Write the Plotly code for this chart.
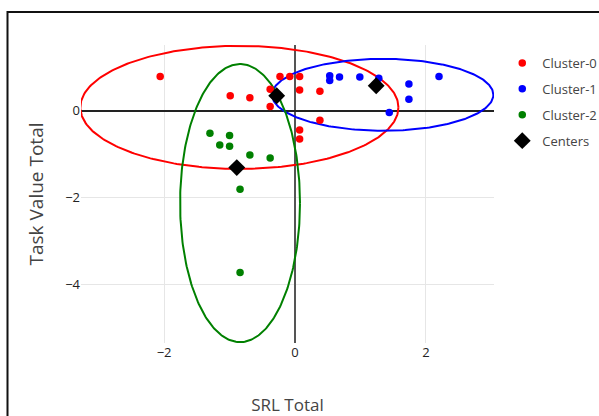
import numpy as np
import plotly.graph_objects as go

# ---- data ----
red_x = [-2.06, -0.99, -0.69, -0.38, -0.38, -0.23, -0.08, 0.07, 0.07, 0.07, 0.07, 0.38, 0.38]
red_y = [0.79, 0.35, 0.30, 0.50, 0.10, 0.79, 0.79, 0.79, 0.48, -0.44, -0.65, 0.45, -0.22]
blue_x = [0.53, 0.53, 0.68, 0.99, 1.28, 1.74, 1.74, 2.20, 1.44]
blue_y = [0.81, 0.70, 0.78, 0.78, 0.75, 0.62, 0.27, 0.79, -0.04]
green_x = [-1.30, -1.00, -1.15, -1.00, -0.69, -0.38, -0.84, -0.84]
green_y = [-0.52, -0.57, -0.79, -0.82, -1.02, -1.09, -1.81, -3.73]
centers_x = [-0.28, 1.24, -0.89]
centers_y = [0.35, 0.58, -1.31]

# ellipse parameters: (center x, center y, semi-axis x, semi-axis y)
ellipse_red = (-0.85, 0.08, 2.43, 1.42)
ellipse_blue = (1.34, 0.37, 1.69, 0.83)
ellipse_green = (-0.84, -2.13, 0.916, 3.21)

cluster_names = ["Cluster-0", "Cluster-1", "Cluster-2"]
cluster_colors = ["red", "blue", "green"]

fig = go.Figure()

t = np.linspace(0, 2 * np.pi, 300)
for (cx, cy, a, b), col in zip([ellipse_red, ellipse_blue, ellipse_green], cluster_colors):
    fig.add_trace(go.Scatter(x=cx + a * np.cos(t), y=cy + b * np.sin(t), mode="lines",
                             line=dict(color=col, width=2), showlegend=False, hoverinfo="skip"))

for name, col, xs, ys in zip(cluster_names, cluster_colors,
                             [red_x, blue_x, green_x], [red_y, blue_y, green_y]):
    fig.add_trace(go.Scatter(x=xs, y=ys, mode="markers", name=name, legendgroup=name,
                             marker=dict(color=col, size=7.5)))

fig.add_trace(go.Scatter(x=centers_x, y=centers_y, mode="markers", name="Centers", legendgroup="Centers",
                         marker=dict(color="black", symbol="diamond", size=13)))

L, R, T, B = 81, 105, 45, 73
W, H = 599, 416
pw, ph = W - L - R, H - T - B

fig.update_layout(
    width=W, height=H, autosize=False,
    margin=dict(l=L, r=R, t=T, b=B, autoexpand=False),
    paper_bgcolor="white", plot_bgcolor="white",
    font=dict(family="Open Sans", color="#333", size=13),
    legend=dict(x=1.02, y=0.99, xanchor="left", yanchor="top", traceorder="grouped",
                tracegroupgap=6, font=dict(size=13, color="#444")),
    xaxis=dict(range=[-3.27, 3.04], dtick=2, showgrid=True, gridcolor="#e6e6e6",
               zeroline=True, zerolinecolor="#555", zerolinewidth=2, showline=False,
               ticks="", title=dict(text="SRL Total", font=dict(size=17, color="#444"), standoff=40),
               tickfont=dict(size=13, color="#222")),
    yaxis=dict(range=[-5.36, 1.52], dtick=2, showgrid=True, gridcolor="#e6e6e6",
               zeroline=True, zerolinecolor="#222", zerolinewidth=2, showline=False,
               ticks="", title=dict(text="Task Value Total", font=dict(size=19, color="#444"), standoff=16),
               tickfont=dict(size=13, color="#222")),
    shapes=[dict(type="rect", xref="paper", yref="paper",
                 x0=(7.5 - L) / pw, x1=2.0, y0=-1.0, y1=(H - B - 12) / ph,
                 line=dict(color="#111", width=2), layer="above")],
)

fig.write_html("out.html",
               config={"responsive": False, "displayModeBar": False},
               post_script="document.body.style.margin='0px';document.body.style.overflow='hidden';")
